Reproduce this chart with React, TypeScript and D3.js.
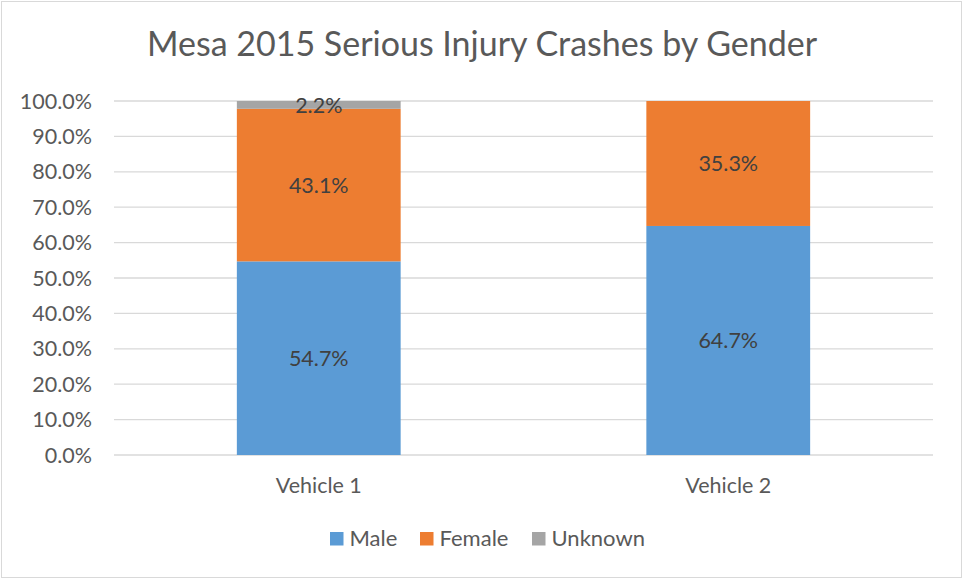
import React from "react";
import * as d3 from "d3";

const categories = ["Vehicle 1", "Vehicle 2"];
const seriesNames = ["Male", "Female", "Unknown"];
const male = [0.547, 0.647];
const female = [0.431, 0.353];
const unknown = [0.022, 0];
const yTicks = [0, 0.1, 0.2, 0.3, 0.4, 0.5, 0.6, 0.7, 0.8, 0.9, 1.0];
const colors = ["#5B9BD5", "#ED7D31", "#A5A5A5"];
const title = "Mesa 2015 Serious Injury Crashes by Gender";

const W = 963;
const H = 579;
const FONT = "Lato, 'Open Sans', sans-serif";

export default function App() {
  const left = 114, right = 933, top = 101, bottom = 455;
  const x = d3.scaleBand<string>().domain(categories).range([left, right]).paddingInner(0.6).paddingOuter(0.3);
  const y = d3.scaleLinear().domain([0, 1]).range([bottom, top]);
  const rows = categories.map((c, i) => ({ cat: c, Male: male[i], Female: female[i], Unknown: unknown[i] }));
  const stacked = d3.stack<any>().keys(seriesNames)(rows);
  const fmt = d3.format(".1%");
  const legendItems = [
    { name: "Male", sx: 330 },
    { name: "Female", sx: 420 },
    { name: "Unknown", sx: 532 },
  ];
  return (
    <svg width={W} height={H} style={{ position: "absolute", left: 0, top: 0 }} fontFamily={FONT}>
      <rect x={0} y={0} width={W} height={H} fill="#fff" />
      <rect x={1.5} y={1.5} width={W - 3} height={H - 3} fill="none" stroke="#D9D9D9" strokeWidth={1} />
      <text x={482} y={56} textAnchor="middle" fontSize={34} fill="#595959">{title}</text>
      {yTicks.map((t) => (
        <g key={t}>
          <line x1={left} x2={right} y1={y(t)} y2={y(t)} stroke="#D9D9D9" strokeWidth={1.3} />
          <text x={92} y={y(t) + 7.5} textAnchor="end" fontSize={21.5} fill="#595959">{fmt(t)}</text>
        </g>
      ))}
      {stacked.map((s, si) => (
        <g key={s.key}>
          {s.map((d, i) => {
            const v = d[1] - d[0];
            if (v <= 0) return null;
            const x0 = x(categories[i])!;
            return (
              <g key={i}>
                <rect x={x0} y={y(d[1])} width={x.bandwidth()} height={y(d[0]) - y(d[1])} fill={colors[si]} />
                <text x={x0 + x.bandwidth() / 2} y={(y(d[0]) + y(d[1])) / 2 + 7.8} textAnchor="middle" fontSize={21.5} fill="#404040">{fmt(v)}</text>
              </g>
            );
          })}
        </g>
      ))}
      {categories.map((c) => (
        <text key={c} x={x(c)! + x.bandwidth() / 2} y={493} textAnchor="middle" fontSize={21.5} fill="#595959">{c}</text>
      ))}
      {legendItems.map((l, i) => (
        <g key={l.name}>
          <rect x={l.sx} y={532} width={13.5} height={13.5} fill={colors[i]} />
          <text x={l.sx + 19.5} y={546} fontSize={22} fill="#595959">{l.name}</text>
        </g>
      ))}
    </svg>
  );
}
